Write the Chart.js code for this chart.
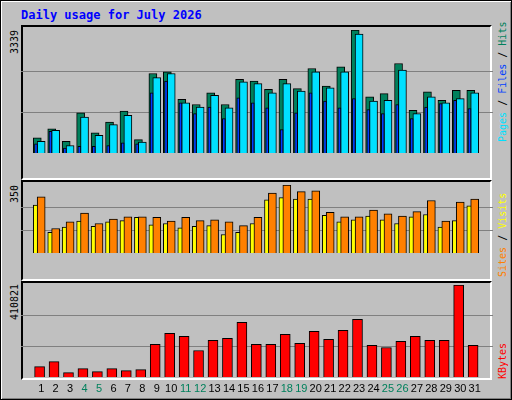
<!DOCTYPE html>
<html><head><meta charset="utf-8">
<script src="https://cdn.jsdelivr.net/npm/chart.js@4"></script>
<style>
body{margin:0;background:#fff}
#frame{position:absolute;left:0;top:0;width:510px;height:398px;background:#c0c0c0;border:1px solid #000;box-shadow:inset 1px 1px #fff,inset -1px -1px #808080;font-family:"DejaVu Sans Mono",monospace}
.panel{position:absolute;left:20px;width:471px;background:#c0c0c0;border-top:2px solid #000;border-left:2px solid #000;border-right:2px solid #fff;border-bottom:2px solid #fff;box-sizing:border-box}
canvas{position:absolute}
.rl{position:absolute;transform-origin:0 0;transform:rotate(-90deg);white-space:nowrap;font-size:10px;line-height:12px}
#title{position:absolute;left:20px;top:7px;font-size:12px;font-weight:bold;color:#0000ff}
</style></head><body>
<div id="frame">
<div id="title">Daily usage for July 2026</div>
<div class="panel" style="top:24px;height:155px"></div>
<div class="panel" style="top:179px;height:101px"></div>
<div class="panel" style="top:280px;height:99px"></div>
<div class="cw" style="position:absolute;left:0;top:0;width:512px;height:400px">
<canvas id="c1"></canvas><canvas id="c2"></canvas><canvas id="c3"></canvas>
</div>
<div id="labels"></div>
</div>
<script>
const days=[1,2,3,4,5,6,7,8,9,10,11,12,13,14,15,16,17,18,19,20,21,22,23,24,25,26,27,28,29,30,31];
const weekendDays=[4,5,11,12,18,19,25,26];
const hits=[409,659,318,1090,545,840,1136,363,2158,2203,1454,1317,1635,1317,1999,1953,1726,1999,1749,2294,1817,2339,3339,1522,1612,2430,1158,1658,1431,1703,1703];
const files=[318,613,204,977,477,772,1022,295,2044,2158,1363,1249,1567,1226,1931,1885,1635,1885,1681,2203,1771,2203,3225,1408,1431,2248,1067,1522,1363,1476,1635];
const pages=[250,590,136,182,182,204,273,250,1635,1953,1363,1067,1249,931,1499,1363,1226,636,1090,1635,1408,1226,1476,1181,1067,1317,931,1249,1340,1431,1204];
const visits=[289,126,160,205,152,175,186,186,183,164,183,167,171,160,141,183,308,350,316,320,209,186,186,221,202,190,213,270,164,262,278];
const sites=[247,107,133,164,137,160,167,183,145,152,129,137,141,95,107,152,274,285,278,278,194,160,171,190,171,152,186,198,133,167,243];
const kbytes=[46469,68954,19487,37475,23984,37475,28481,32978,145403,194870,181379,118421,163391,172385,244337,145403,145403,190373,149900,203864,167888,208361,257828,140906,131912,158894,181379,163391,163391,410821,140906];
const maxLabels=["3339","350","410821"];

const pts=(arr,off)=>arr.map((v,i)=>({x:days[i]+off,y:v}));
const ds=(label,arr,off,w,color,order)=>({label,data:pts(arr,off),backgroundColor:color,borderColor:'#000',borderWidth:1,borderSkipped:'bottom',barThickness:w,grouped:false,order});

function makeChart(id,top,height,datasets,max,showX){
  const c=document.getElementById(id);
  c.style.left='20px';c.style.top=top+'px';c.style.width='472px';c.style.height=height+'px';
  return new Chart(c,{type:'bar',data:{datasets},options:{
    responsive:false,animation:false,devicePixelRatio:1,
    plugins:{legend:{display:false},tooltip:{enabled:false}},
    layout:{padding:0},
    scales:{
      x:{type:'linear',min:0.13,max:31.74,display:showX,grid:{display:false,drawTicks:false},border:{display:false},
        afterBuildTicks:s=>{s.ticks=days.map(d=>({value:d}));},
        afterFit:s=>{s.height=24;},
        ticks:{autoSkip:false,maxRotation:0,padding:5,font:{family:'Liberation Sans',size:11},
          color:ctx=>weekendDays.includes(ctx.tick.value)?'#00805c':'#000',callback:v=>String(v)}},
      y:{min:0,max,display:true,afterFit:s=>{s.width=0;},
        afterBuildTicks:s=>{s.ticks=[1,2].map(k=>({value:max*k/3}));},
        ticks:{display:false},border:{display:false},grid:{color:'#808080',lineWidth:1,drawTicks:false}}
    }}});
}
function setSize(id,h){const c=document.getElementById(id);c.width=472;c.height=h;}
setSize('c1',147);setSize('c2',92);setSize('c3',116);
makeChart('c1',29,147,[ds('Hits',hits,-0.27,8,'#00805c',2),ds('Files',files,0,8,'#00e0ff',1),ds('Pages',pages,-0.36,3,'#0040ff',0)],3339,false);
makeChart('c2',184,92,[ds('Sites',sites,-0.27,8,'#ffff00',1),ds('Visits',visits,0,8,'#ff8000',0)],350,false);
makeChart('c3',284,116,[ds('KBytes',kbytes,-0.11,10,'#ff0000',0)],410821,true);

const L=document.getElementById('labels');
function label(x,y,html){const d=document.createElement('div');d.className='rl';d.style.left=x+'px';d.style.top=y+'px';d.innerHTML=html;L.appendChild(d);}
label(8,53,maxLabels[0]);label(8,202,maxLabels[1]);label(8,319,maxLabels[2]);
label(496,141,'<span style="color:#00e0ff">Pages</span> / <span style="color:#0040ff">Files</span> / <span style="color:#00805c">Hits</span>');
label(496,276,'<span style="color:#ff8000">Sites</span> / <span style="color:#ffff00">Visits</span>');
label(496,378,'<span style="color:#ff0000">KBytes</span>');
</script>
</body></html>
